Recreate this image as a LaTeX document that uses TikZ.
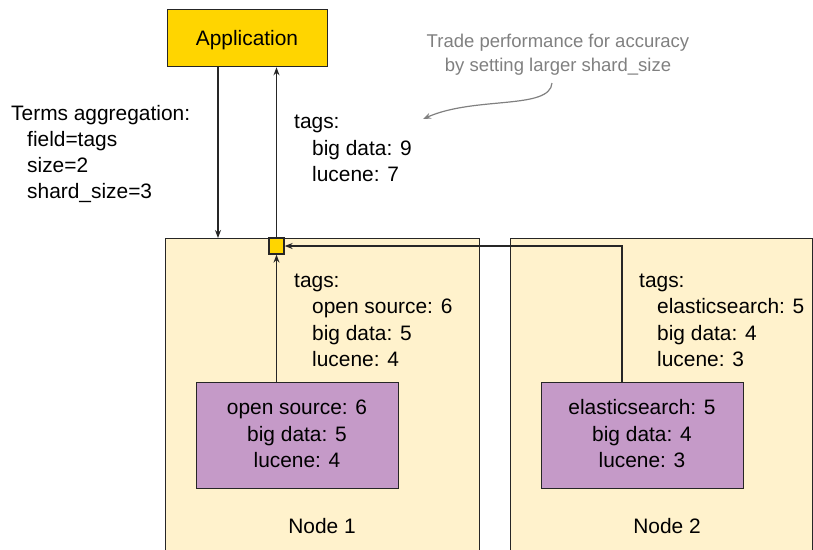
\documentclass[tikz,border=0pt]{standalone}
\usepackage{fontspec}
\setmainfont{Liberation Sans}
\usetikzlibrary{arrows.meta}
\definecolor{appgold}{HTML}{FFD500}
\definecolor{nodecream}{HTML}{FFF2CC}
\definecolor{shardpurple}{HTML}{C59AC8}
\definecolor{linegray}{HTML}{262626}
\definecolor{notegray}{HTML}{808080}
\begin{document}
\begin{tikzpicture}[x=1pt,y=-1pt,
  line/.style={draw=linegray,line width=1.3pt},
  arr/.style={line,-{Stealth[length=8pt,width=6pt]}},
  boxnw/.style={line,anchor=north west,inner sep=0pt},
  txt/.style={inner sep=0pt,anchor=base west,font=\fontsize{20.9}{24}\selectfont,text=black},
  ctxt/.style={txt,anchor=base},
  notetxt/.style={inner sep=0pt,anchor=base,font=\fontsize{18.5}{24}\selectfont,text=notegray}
]
\useasboundingbox (0,0) rectangle (813,549);
\clip (0,0) rectangle (813,549);

% containers
\node[boxnw,fill=nodecream,minimum width=314pt,minimum height=330pt] (node1) at (165,238) {};
\node[boxnw,fill=nodecream,minimum width=302pt,minimum height=330pt] (node2) at (510,238) {};

% application
\node[boxnw,fill=appgold,minimum width=160pt,minimum height=57pt] (app) at (167,9) {};
\node[ctxt] (apptxt) at (247,45) {Application};

% merge square
\node[line,fill=appgold,inner sep=0pt,minimum width=15pt,minimum height=16pt] (merge) at (276.5,246) {};

% shards
\node[boxnw,fill=shardpurple,minimum width=202pt,minimum height=106pt] (shard1) at (196,382) {};
\node[boxnw,fill=shardpurple,minimum width=202pt,minimum height=106pt] (shard2) at (541,382) {};

% connectors
\coordinate (downx) at (218,0);
\coordinate (bendx) at (622,0);
\draw[arr] (app.south -| downx) -- (node1.north -| downx);
\draw[arr] (merge.north) -- (app.south -| merge.north);
\draw[arr] (shard1.north -| merge.south) -- (merge.south);
\draw[arr] (shard2.north -| bendx) |- (merge.east);

% request text
\node[txt] (t1) at (11,120) {Terms aggregation:};
\node[txt] (t2) at (27,146) {field=tags};
\node[txt] (t3) at (27,172) {size=2};
\node[txt] (t4) at (27,198) {shard\_size=3};

% result text
\node[txt] (r1) at (294,128) {tags:};
\node[txt] (r2) at (312,155) {big data: 9};
\node[txt] (r3) at (312,181) {lucene: 7};

% node1 text
\node[txt] (a1) at (294,287) {tags:};
\node[txt] (a2) at (312,313) {open source: 6};
\node[txt] (a3) at (312,340) {big data: 5};
\node[txt] (a4) at (312,366) {lucene: 4};
\node[ctxt] (s1a) at (297,414) {open source: 6};
\node[ctxt] (s1b) at (297,441) {big data: 5};
\node[ctxt] (s1c) at (297,467) {lucene: 4};
\node[ctxt] (n1) at (322,533) {Node 1};

% node2 text
\node[txt] (b1) at (639,287) {tags:};
\node[txt] (b2) at (657,313) {elasticsearch: 5};
\node[txt] (b3) at (657,340) {big data: 4};
\node[txt] (b4) at (657,366) {lucene: 3};
\node[ctxt] (s2a) at (642,414) {elasticsearch: 5};
\node[ctxt] (s2b) at (642,441) {big data: 4};
\node[ctxt] (s2c) at (642,467) {lucene: 3};
\node[ctxt] (n2) at (667,533) {Node 2};

% note
\node[notetxt] (note1) at (558,47) {Trade performance for accuracy};
\node[notetxt] (note2) at (558,71) {by setting larger shard\_size};
\coordinate (notestart) at (552,83);
\coordinate (notetip) at (423,119);
\draw[draw=notegray,line width=1.2pt,-{Stealth[length=8pt,width=6pt]}] (notestart) .. controls (550,110) and (475,96) .. (notetip);
\end{tikzpicture}
\end{document}
